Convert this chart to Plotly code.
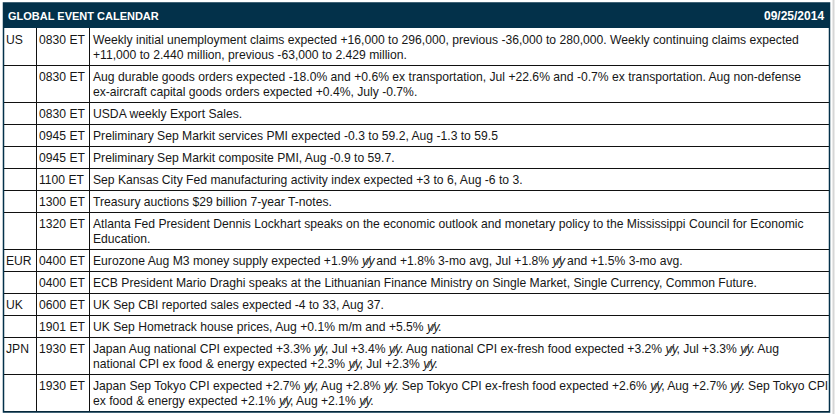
import plotly.graph_objects as go

title = "GLOBAL EVENT CALENDAR"
date = "09/25/2014"

countries = ["US", "", "", "", "", "", "", "", "EUR", "", "UK", "", "JPN", ""]
times = ["0830 ET", "0830 ET", "0830 ET", "0945 ET", "0945 ET", "1100 ET", "1300 ET",
         "1320 ET", "0400 ET", "0400 ET", "0600 ET", "1901 ET", "1930 ET", "1930 ET"]
events = [
    "Weekly initial unemployment claims expected +16,000 to 296,000, previous -36,000 to 280,000. Weekly continuing claims expected<br>"
    "+11,000 to 2.440 million, previous -63,000 to 2.429 million.",
    "Aug durable goods orders expected -18.0% and +0.6% ex transportation, Jul +22.6% and -0.7% ex transportation. Aug non-defense<br>"
    "ex-aircraft capital goods orders expected +0.4%, July -0.7%.",
    "USDA weekly Export Sales.",
    "Preliminary Sep Markit services PMI expected -0.3 to 59.2, Aug -1.3 to 59.5",
    "Preliminary Sep Markit composite PMI, Aug -0.9 to 59.7.",
    "Sep Kansas City Fed manufacturing activity index expected +3 to 6, Aug -6 to 3.",
    "Treasury auctions $29 billion 7-year T-notes.",
    "Atlanta Fed President Dennis Lockhart speaks on the economic outlook and monetary policy to the Mississippi Council for Economic<br>"
    "Education.",
    "Eurozone Aug M3 money supply expected +1.9% <i>y/y</i> and +1.8% 3-mo avg, Jul +1.8% <i>y/y</i> and +1.5% 3-mo avg.",
    "ECB President Mario Draghi speaks at the Lithuanian Finance Ministry on Single Market, Single Currency, Common Future.",
    "UK Sep CBI reported sales expected -4 to 33, Aug 37.",
    "UK Sep Hometrack house prices, Aug +0.1% m/m and +5.5% <i>y/y</i>.",
    "Japan Aug national CPI expected +3.3% <i>y/y</i>, Jul +3.4% <i>y/y</i>. Aug national CPI ex-fresh food expected +3.2% <i>y/y</i>, Jul +3.3% <i>y/y</i>. Aug<br>"
    "national CPI ex food &amp; energy expected +2.3% <i>y/y</i>, Jul +2.3% <i>y/y</i>.",
    "Japan Sep Tokyo CPI expected +2.7% <i>y/y</i>, Aug +2.8% <i>y/y</i>. Sep Tokyo CPI ex-fresh food expected +2.6% <i>y/y</i>, Aug +2.7% <i>y/y</i>. Sep Tokyo CPI<br>"
    "ex food &amp; energy expected +2.1% <i>y/y</i>, Aug +2.1% <i>y/y</i>."
]

# layout of the table, in page pixels (axes are set up 1 unit = 1 px)
W, H = 836, 414
left, right = 3, 829
col_x = [left, 36, 89, right]
head_top, head_bot = 3, 28
line_h = 15
pad_h = 7

navy = "#03314a"
ink = "#161616"
font = "Liberation Sans, Arial, sans-serif"
fsize = 12.15
# the italic y/y in the source is set tight
italic_on = "<span style=\"font-style:italic;letter-spacing:-1.5px\">"


def styled(s):
    return s.replace("<i>", italic_on).replace("</i>", "</span>")


fig = go.Figure()
shapes = []
annos = []

# header bar
shapes.append(dict(type="rect", x0=left, x1=right, y0=head_top, y1=head_bot,
                   fillcolor=navy, line=dict(width=0), layer="below"))
annos.append(dict(x=left + 3, y=(head_top + head_bot) / 2, text="<b>" + title + "</b>",
                  xanchor="left", yanchor="middle",
                  font=dict(family=font, size=11, color="white")))
annos.append(dict(x=right - 3, y=(head_top + head_bot) / 2, text="<b>" + date + "</b>",
                  xanchor="right", yanchor="middle",
                  font=dict(family=font, size=12, color="white")))

# body rows
y = head_bot
for c, t, e in zip(countries, times, events):
    lines = e.split("<br>")
    h = pad_h + line_h * len(lines)
    first = y + 11.5
    annos.append(dict(x=col_x[0] + 1, y=first, text=c, xanchor="left", yanchor="middle",
                      font=dict(family=font, size=fsize, color=ink)))
    annos.append(dict(x=col_x[1] + 1, y=first, text=t, xanchor="left", yanchor="middle",
                      font=dict(family=font, size=fsize, color=ink)))
    for k, ln in enumerate(lines):
        annos.append(dict(x=col_x[2] + 2, y=first + k * line_h, text=styled(ln),
                          xanchor="left", yanchor="middle",
                          font=dict(family=font, size=fsize, color=ink)))
    y += h
    shapes.append(dict(type="line", x0=left, x1=right, y0=y + 0.5, y1=y + 0.5,
                       line=dict(color="#111111", width=1)))
bottom = y

# column separators
for cx in col_x[1:3]:
    shapes.append(dict(type="line", x0=cx + 0.5, x1=cx + 0.5, y0=head_bot, y1=bottom,
                       line=dict(color="#111111", width=1)))

# outer frame
shapes.append(dict(type="rect", x0=left + 0.5, x1=right + 0.5, y0=head_top, y1=bottom + 1,
                   line=dict(color=navy, width=1.5), fillcolor="rgba(0,0,0,0)"))
# light grey edge at the far right
shapes.append(dict(type="line", x0=833.5, x1=833.5, y0=0, y1=H,
                   line=dict(color="#d6d6d6", width=2)))

for a in annos:
    a.update(xref="x", yref="y", showarrow=False, align="left")

fig.update_layout(
    width=W, height=H,
    margin=dict(l=0, r=0, t=0, b=0),
    paper_bgcolor="white", plot_bgcolor="white",
    xaxis=dict(range=[0, W], visible=False, fixedrange=True),
    yaxis=dict(range=[H, 0], visible=False, fixedrange=True),
    shapes=shapes, annotations=annos,
    showlegend=False,
)

# drop the browser's default body margin so the figure sits at the page corner
fig.write_html("out.html", post_script="document.body.style.margin='0';",
               config=dict(displayModeBar=False))
